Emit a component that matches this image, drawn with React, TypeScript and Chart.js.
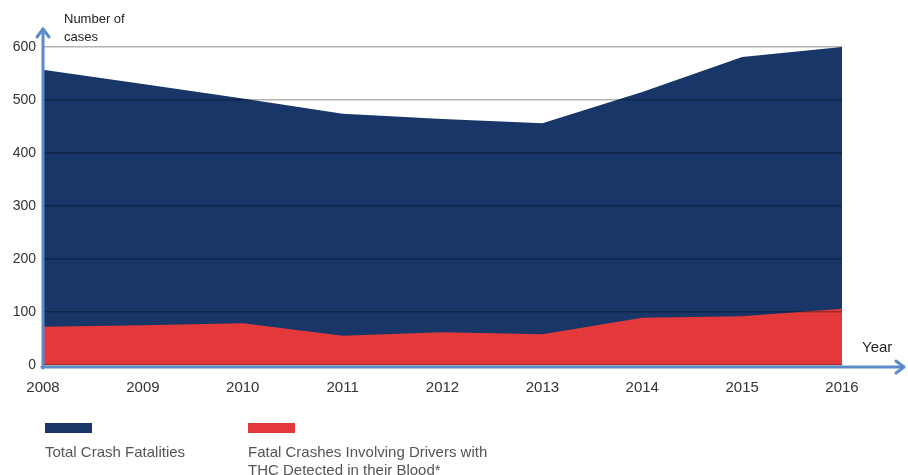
import React, { useEffect, useRef } from "react";
import { Chart, registerables } from "chart.js";

Chart.register(...registerables);

const years = ["2008", "2009", "2010", "2011", "2012", "2013", "2014", "2015", "2016"];
const totalCrashFatalities = [557, 530, 503, 474, 464, 456, 515, 581, 600];
const thcCrashes = [72, 75, 79, 55, 62, 58, 89, 92, 106];
const yTicks = [0, 100, 200, 300, 400, 500, 600];

const seriesLabels = ["Total Crash Fatalities", "Fatal Crashes Involving Drivers with THC Detected in their Blood*"];
const legendLines2 = ["Fatal Crashes Involving Drivers with", "THC Detected in their Blood*"];

const NAVY = "#183668";
const RED = "#e3393a";
const AXIS_BLUE = "#5b8bc8";
const FONT = "'Liberation Sans', Arial, Helvetica, sans-serif";

const decorPlugin = {
  id: "decor",
  afterDraw(chart: any) {
    const ctx = chart.ctx as CanvasRenderingContext2D;
    const area = chart.chartArea;
    ctx.save();
    // axes arrows
    ctx.strokeStyle = AXIS_BLUE;
    ctx.lineWidth = 3;
    ctx.lineCap = "round";
    ctx.lineJoin = "round";
    const ax = area.left;
    const ay = area.bottom + 2;
    ctx.beginPath();
    ctx.moveTo(ax, ay + 1);
    ctx.lineTo(ax, 29);
    ctx.stroke();
    ctx.beginPath();
    ctx.moveTo(ax - 6, 37);
    ctx.lineTo(ax, 29);
    ctx.lineTo(ax + 6, 37);
    ctx.stroke();
    ctx.beginPath();
    ctx.moveTo(ax - 1, ay);
    ctx.lineTo(903, ay);
    ctx.stroke();
    ctx.beginPath();
    ctx.moveTo(896, ay - 6);
    ctx.lineTo(904, ay);
    ctx.lineTo(896, ay + 6);
    ctx.stroke();

    // axis titles
    ctx.fillStyle = "#222";
    ctx.font = `13px ${FONT}`;
    ctx.textAlign = "left";
    ctx.textBaseline = "middle";
    ctx.fillText("Number of", 64, 19);
    ctx.fillText("cases", 64, 37);
    ctx.font = `15px ${FONT}`;
    ctx.fillText("Year", 862, 348);

    // legend
    const items = [
      { color: NAVY, x: 45, lines: [seriesLabels[0]] },
      { color: RED, x: 248, lines: legendLines2 },
    ];
    for (const it of items) {
      ctx.fillStyle = it.color;
      ctx.fillRect(it.x, 423, 47, 10);
      ctx.fillStyle = "#555";
      ctx.font = `15px ${FONT}`;
      it.lines.forEach((ln, i) => ctx.fillText(ln, it.x, 453 + i * 18));
    }
    ctx.restore();
  },
};

export default function App() {
  const ref = useRef<HTMLCanvasElement | null>(null);
  useEffect(() => {
    if (!ref.current) return;
    const chart = new Chart(ref.current, {
      type: "line",
      data: {
        labels: years,
        datasets: [
          {
            label: seriesLabels[1],
            data: thcCrashes,
            backgroundColor: RED,
            borderColor: RED,
            borderWidth: 0,
            fill: "origin",
            pointRadius: 0,
            tension: 0,
          },
          {
            label: seriesLabels[0],
            data: totalCrashFatalities,
            backgroundColor: NAVY,
            borderColor: NAVY,
            borderWidth: 0,
            fill: "origin",
            pointRadius: 0,
            tension: 0,
          },
        ],
      },
      options: {
        animation: false,
        responsive: false,
        maintainAspectRatio: false,
        layout: { padding: { top: 47, right: 66, left: 0, bottom: 0 } },
        plugins: { legend: { display: false }, tooltip: { enabled: false } },
        scales: {
          x: {
            offset: false,
            grid: { display: false, drawTicks: false },
            border: { display: false },
            ticks: { color: "#333", font: { size: 15, family: FONT }, padding: 14, maxRotation: 0, autoSkip: false },
            afterFit: (s: any) => {
              s.height = 110;
            },
          },
          y: {
            min: 0,
            max: 600,
            afterBuildTicks: (s: any) => {
              s.ticks = yTicks.map((v) => ({ value: v }));
            },
            grid: { color: "rgba(0,0,0,0.3)", lineWidth: 1.5, drawTicks: false, z: 1 },
            border: { display: false },
            ticks: { color: "#333", font: { size: 14, family: FONT }, padding: 7 },
            afterFit: (s: any) => {
              s.width = 43;
            },
          },
        },
      },
      plugins: [decorPlugin],
    });
    return () => chart.destroy();
  }, []);
  return (
    <div style={{ position: "fixed", left: 0, top: 0, width: 908, height: 475, background: "#fff" }}>
      <canvas ref={ref} width={908} height={475} style={{ display: "block", width: 908, height: 475 }} />
    </div>
  );
}
